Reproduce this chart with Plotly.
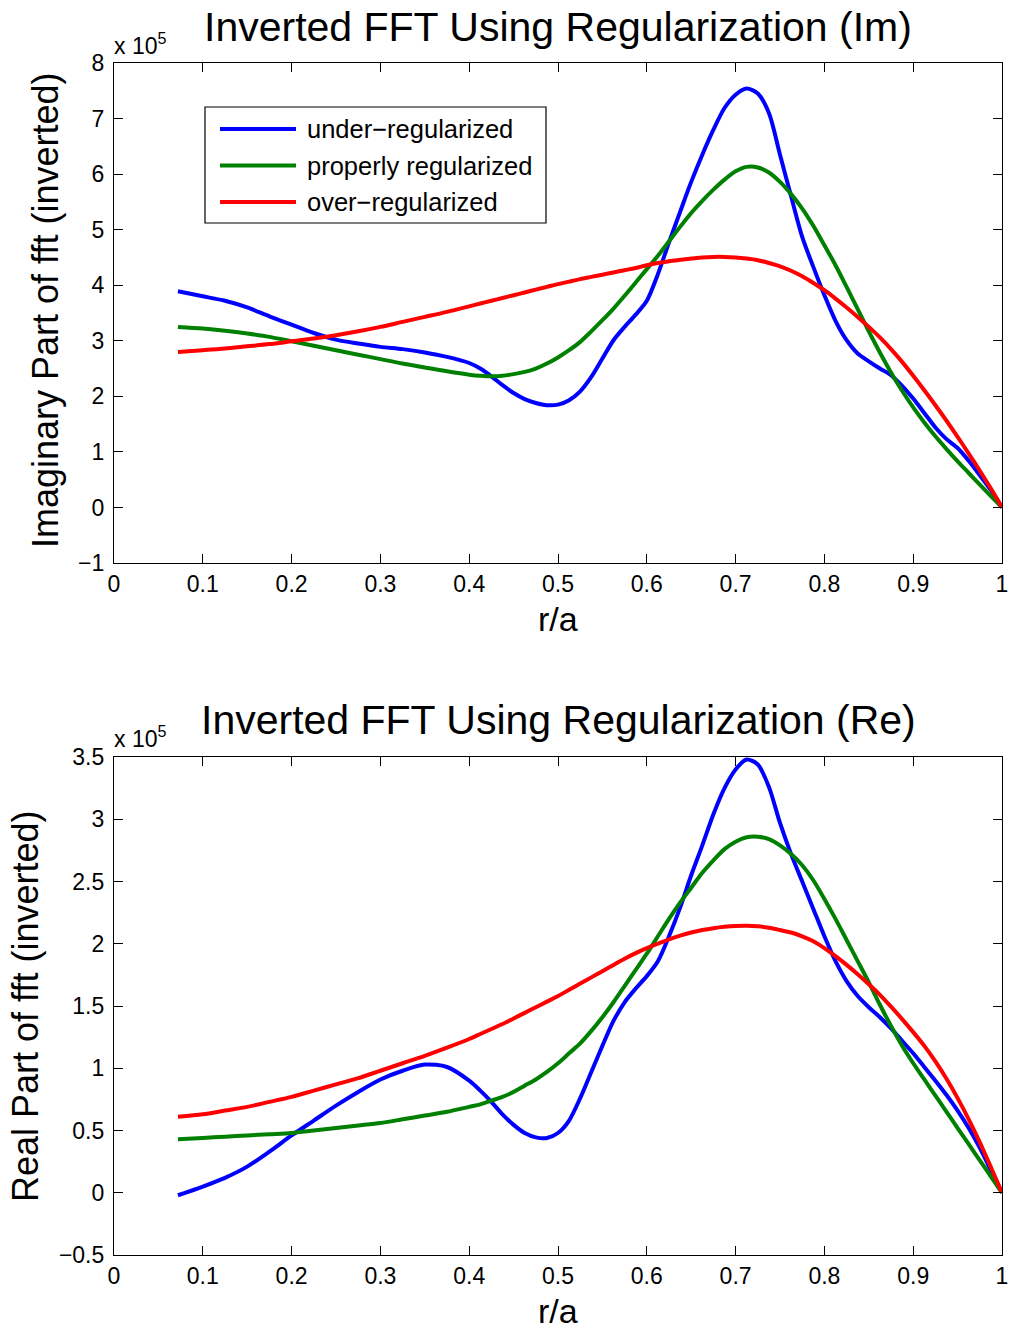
import plotly.graph_objects as go

# normalized radius r/a (shared grid for every curve; finer from 0.4 outwards)
r_over_a = [0.072, 0.1, 0.125, 0.15, 0.175, 0.2, 0.225, 0.25, 0.275, 0.3,
            0.325, 0.35, 0.375,
            0.4, 0.4125, 0.425, 0.4375, 0.45, 0.4625, 0.475, 0.4875,
            0.5, 0.5125, 0.525, 0.5375, 0.55, 0.5625, 0.575, 0.5875,
            0.6, 0.6125, 0.625, 0.6375, 0.65, 0.6625, 0.675, 0.6875,
            0.7, 0.7125, 0.725, 0.7375, 0.75, 0.7625, 0.775, 0.7875,
            0.8, 0.8125, 0.825, 0.8375, 0.85, 0.8625, 0.875, 0.8875,
            0.9, 0.9125, 0.925, 0.9375, 0.95, 0.9625, 0.975, 0.9875,
            1.0]

# imaginary part of inverted fft, in units of 1e5
im_under = [3.89, 3.80, 3.72, 3.60, 3.44, 3.29, 3.14, 3.02, 2.95, 2.89,
            2.85, 2.79, 2.71,
            2.60, 2.50, 2.36, 2.20, 2.06, 1.95, 1.88, 1.84,
            1.85, 1.93, 2.09, 2.35, 2.68, 3.01, 3.25, 3.47,
            3.72, 4.20, 4.77, 5.32, 5.86, 6.35, 6.80, 7.19,
            7.43, 7.54, 7.45, 7.10, 6.35, 5.60, 4.87, 4.33,
            3.82, 3.36, 3.01, 2.77, 2.63, 2.50, 2.38, 2.19,
            1.96, 1.70, 1.44, 1.23, 1.07, 0.84, 0.58, 0.31,
            0.0]
im_proper = [3.25, 3.22, 3.18, 3.13, 3.07, 2.99, 2.91, 2.83, 2.75, 2.67,
             2.59, 2.52, 2.45,
             2.39, 2.37, 2.36, 2.37, 2.40, 2.44, 2.50, 2.59,
             2.70, 2.83, 2.98, 3.17, 3.37, 3.58, 3.81, 4.05,
             4.29, 4.53, 4.79, 5.05, 5.30, 5.52, 5.72, 5.90,
             6.05, 6.13, 6.12, 6.03, 5.86, 5.64, 5.38, 5.07,
             4.72, 4.36, 3.97, 3.57, 3.17, 2.79, 2.43, 2.10,
             1.80, 1.53, 1.28, 1.05, 0.83, 0.62, 0.41, 0.205,
             0.0]
im_over = [2.80, 2.83, 2.86, 2.90, 2.94, 2.99, 3.04, 3.10, 3.17, 3.25,
           3.34, 3.43, 3.52,
           3.62, 3.67, 3.72, 3.77, 3.82, 3.87, 3.92, 3.97,
           4.02, 4.065, 4.11, 4.15, 4.19, 4.23, 4.27, 4.31,
           4.36, 4.40, 4.43, 4.46, 4.48, 4.50, 4.51, 4.51,
           4.50, 4.48, 4.45, 4.40, 4.34, 4.26, 4.16, 4.04,
           3.91, 3.76, 3.60, 3.43, 3.25, 3.06, 2.85, 2.62,
           2.37, 2.11, 1.84, 1.56, 1.27, 0.97, 0.66, 0.34,
           0.0]

# real part of inverted fft, in units of 1e5
re_under = [-0.02, 0.05, 0.12, 0.21, 0.33, 0.46, 0.58, 0.70, 0.81, 0.91,
            0.98, 1.03, 1.01,
            0.90, 0.82, 0.73, 0.63, 0.545, 0.48, 0.445, 0.44,
            0.48, 0.58, 0.76, 0.97, 1.18, 1.38, 1.53, 1.64,
            1.74, 1.86, 2.06, 2.29, 2.55, 2.79, 3.04, 3.25,
            3.40, 3.48, 3.44, 3.26, 2.97, 2.72, 2.50, 2.28,
            2.06, 1.86, 1.70, 1.58, 1.49, 1.41, 1.32, 1.22,
            1.12, 1.01, 0.90, 0.785, 0.66, 0.52, 0.36, 0.18,
            0.0]
re_proper = [0.43, 0.44, 0.45, 0.46, 0.47, 0.48, 0.50, 0.52, 0.54, 0.56,
             0.59, 0.62, 0.65,
             0.69, 0.71, 0.74, 0.77, 0.81, 0.86, 0.91, 0.97,
             1.04, 1.12, 1.20, 1.30, 1.41, 1.53, 1.66, 1.79,
             1.92, 2.06, 2.20, 2.33, 2.45, 2.57, 2.67, 2.76,
             2.82, 2.855, 2.86, 2.84, 2.79, 2.72, 2.63, 2.51,
             2.36, 2.20, 2.03, 1.86, 1.69, 1.51, 1.34, 1.18,
             1.04, 0.91, 0.78, 0.65, 0.52, 0.39, 0.26, 0.13,
             0.0]
re_over = [0.61, 0.63, 0.66, 0.69, 0.73, 0.77, 0.82, 0.87, 0.92, 0.98,
           1.04, 1.10, 1.165,
           1.235, 1.275, 1.315, 1.355, 1.40, 1.445, 1.49, 1.535,
           1.58, 1.63, 1.68, 1.73, 1.78, 1.83, 1.88, 1.925,
           1.965, 2.00, 2.035, 2.065, 2.09, 2.11, 2.125, 2.136,
           2.143, 2.145, 2.14, 2.128, 2.11, 2.09, 2.06, 2.02,
           1.965, 1.90, 1.83, 1.755, 1.675, 1.59, 1.495, 1.395,
           1.29, 1.18, 1.055, 0.915, 0.76, 0.59, 0.405, 0.205,
           0.0]

series_names = ["under\u2212regularized", "properly regularized", "over\u2212regularized"]
series_colors = ["rgb(0,0,255)", "rgb(0,128,0)", "rgb(255,0,0)"]

titles = ["Inverted FFT Using Regularization (Im)", "Inverted FFT Using Regularization (Re)"]
ylabels = ["Imaginary Part of fft (inverted)", "Real Part of fft (inverted)"]

FONT = "Liberation Sans, Arial, Helvetica, sans-serif"
W, H = 1012, 1331
ML, MR, MT, MB = 114, 10, 63, 76
PW, PH = W - ML - MR, H - MT - MB


def px_x(px):
    return (px - ML) / PW


def px_y(py):
    return (H - MB - py) / PH


fig = go.Figure()

for name, color, ys in zip(series_names, series_colors, [im_under, im_proper, im_over]):
    fig.add_trace(go.Scatter(x=r_over_a, y=ys, mode="lines", name=name,
                             line=dict(color=color, width=4, shape="spline", smoothing=0.8),
                             xaxis="x", yaxis="y", showlegend=False))
for name, color, ys in zip(series_names, series_colors, [re_under, re_proper, re_over]):
    fig.add_trace(go.Scatter(x=r_over_a, y=ys, mode="lines", name=name,
                             line=dict(color=color, width=4, shape="spline", smoothing=0.8),
                             xaxis="x2", yaxis="y2", showlegend=False))

axis_common = dict(showline=True, linecolor="black", linewidth=1.2, mirror="ticks",
                   ticks="inside", ticklen=9, tickwidth=1, tickcolor="black",
                   showgrid=False, zeroline=False, automargin=False,
                   tickfont=dict(family=FONT, size=23, color="black"))

top_dom = [px_y(563), px_y(63)]
bot_dom = [px_y(1255), px_y(757)]

fig.update_layout(
    width=W, height=H, autosize=False,
    margin=dict(l=ML, r=MR, t=MT, b=MB, autoexpand=False),
    paper_bgcolor="white", plot_bgcolor="white",
    font=dict(family=FONT, color="black"),
    xaxis=dict(domain=[0, 1], anchor="y", range=[0, 1], dtick=0.1, tick0=0,
               ticklabelstandoff=0, **axis_common),
    yaxis=dict(domain=top_dom, anchor="x", range=[-1, 8], dtick=1,
               ticklabelstandoff=4, **axis_common),
    xaxis2=dict(domain=[0, 1], anchor="y2", range=[0, 1], dtick=0.1, tick0=0,
                ticklabelstandoff=0, **axis_common),
    yaxis2=dict(domain=bot_dom, anchor="x2", range=[-0.5, 3.5], dtick=0.5,
                ticklabelstandoff=4, **axis_common),
)

annotations = []
# subplot titles
for title, py in zip(titles, [27, 720]):
    annotations.append(dict(text=title, x=px_x(558), y=px_y(py), xref="paper", yref="paper",
                            showarrow=False, xanchor="center", yanchor="middle",
                            font=dict(family=FONT, size=41, color="black")))
# x labels
for py in [619, 1311]:
    annotations.append(dict(text="r/a", x=px_x(558), y=px_y(py), xref="paper", yref="paper",
                            showarrow=False, xanchor="center", yanchor="middle",
                            font=dict(family=FONT, size=34, color="black")))
# y labels
for label, pxc, pyc in zip(ylabels, [45, 25], [310, 1006]):
    annotations.append(dict(text=label, x=px_x(pxc), y=px_y(pyc), xref="paper", yref="paper",
                            showarrow=False, xanchor="center", yanchor="middle", textangle=-90,
                            font=dict(family=FONT, size=36, color="black")))
# exponent multipliers
for py in [44, 737]:
    annotations.append(dict(text="x 10<sup>5</sup>", x=px_x(112), y=px_y(py), xref="paper",
                            yref="paper", showarrow=False, xanchor="left", yanchor="middle",
                            font=dict(family=FONT, size=23, color="black")))

# legend box in the upper plot
shapes = [dict(type="rect", xref="paper", yref="paper",
               x0=px_x(205), x1=px_x(546), y0=px_y(223), y1=px_y(107),
               line=dict(color="black", width=1.2), fillcolor="white", layer="above")]
for i, (name, color) in enumerate(zip(series_names, series_colors)):
    py = 129 + i * 36.5
    shapes.append(dict(type="line", xref="paper", yref="paper",
                       x0=px_x(220), x1=px_x(296), y0=px_y(py), y1=px_y(py),
                       line=dict(color=color, width=4), layer="above"))
    annotations.append(dict(text=name, x=px_x(305), y=px_y(py), xref="paper", yref="paper",
                            showarrow=False, xanchor="left", yanchor="middle",
                            font=dict(family=FONT, size=25.5, color="black")))

fig.update_layout(annotations=annotations, shapes=shapes)

fig.write_html("out.html")
